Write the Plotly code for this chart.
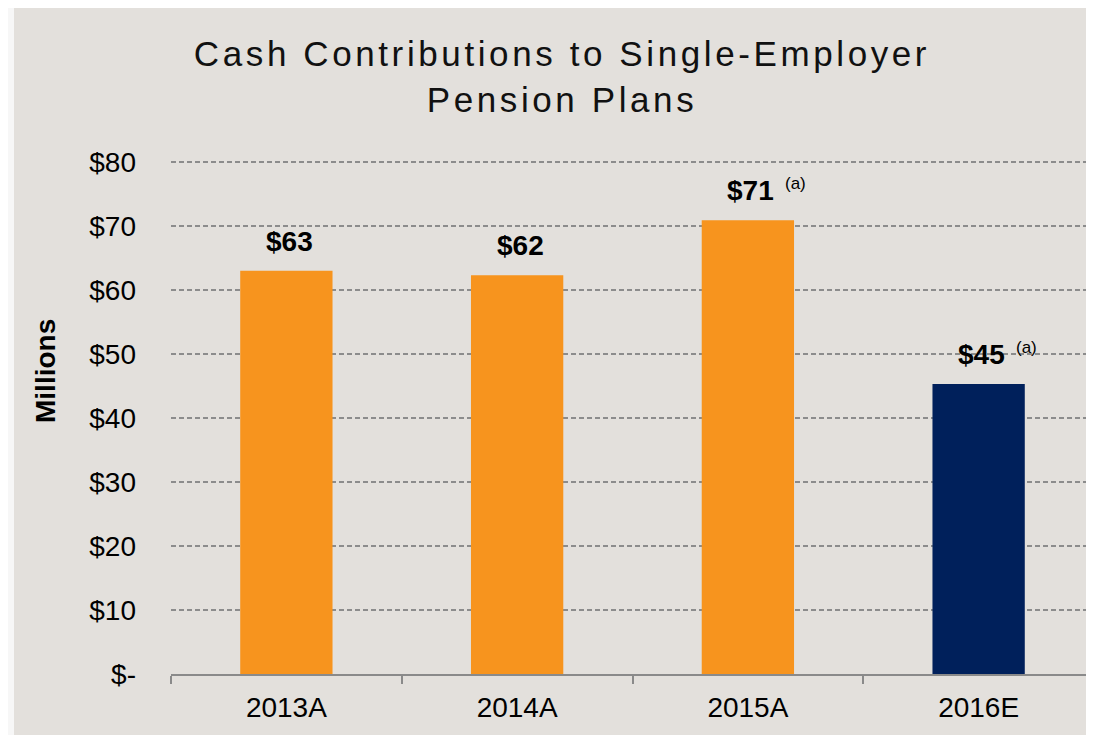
import plotly.graph_objects as go

categories = ["2013A", "2014A", "2015A", "2016E"]
values = [63, 62.3, 70.9, 45.3]
labels = ["$63", "$62", "$71", "$45"]
footnotes = ["", "", "(a)", "(a)"]
bar_colors = ["#F7941E", "#F7941E", "#F7941E", "#00205B"]
y_ticks = [0, 10, 20, 30, 40, 50, 60, 70, 80]
y_tick_labels = ["$-", "$10", "$20", "$30", "$40", "$50", "$60", "$70", "$80"]

# page body has an 8px margin; figure coordinates are offset by it
W, H = 1086, 727
L, R, T, B = 163, 0, 152, 61
pw, ph = W - L - R, H - T - B
PLOT_BOTTOM = H - B

FONT = "Liberation Sans, Arial, sans-serif"

fig = go.Figure()
fig.add_trace(go.Bar(
    x=categories, y=values, marker=dict(color=bar_colors, line=dict(width=0)),
    width=0.4, hoverinfo="skip",
))

annotations = []
for c, v, lab, fn in zip(categories, values, labels, footnotes):
    annotations.append(dict(
        x=c, y=v, xref="x", yref="y", text="<b>" + lab + "</b>", showarrow=False,
        xanchor="center", yanchor="bottom", yshift=12, xshift=3,
        font=dict(family=FONT, size=28, color="#000000"),
    ))
    if fn:
        annotations.append(dict(
            x=c, y=v, xref="x", yref="y", text=fn, showarrow=False,
            xanchor="left", yanchor="bottom", xshift=35, yshift=25,
            font=dict(family=FONT, size=17, color="#000000"),
        ))

# y-axis title
annotations.append(dict(
    x=(37 - L) / pw, y=(PLOT_BOTTOM - 363) / ph,
    xref="paper", yref="paper",
    text="<b>Millions</b>", showarrow=False, textangle=-90,
    xanchor="center", yanchor="middle",
    font=dict(family=FONT, size=28, color="#000000"),
))

title_text = ('<span style="letter-spacing:3.6px">Cash Contributions to Single-Employer</span><br>'
              '<span style="letter-spacing:3.6px">Pension Plans</span>')

fig.update_layout(
    width=W, height=H,
    margin=dict(l=L, r=R, t=T, b=B, pad=0),
    paper_bgcolor="#F7F7F7",
    plot_bgcolor="rgba(0,0,0,0)",
    showlegend=False,
    title=dict(
        text=title_text, x=554 / W, xanchor="center", xref="container",
        y=1 - 58 / H, yanchor="top", yref="container",
        font=dict(family=FONT, size=35, color="#111111"),
    ),
    annotations=annotations,
    shapes=[dict(
        type="rect", xref="paper", yref="paper", layer="below",
        x0=(6 - L) / pw, x1=(W + 5 - L) / pw,
        y0=(PLOT_BOTTOM - (H + 5)) / ph, y1=(PLOT_BOTTOM + 2) / ph,
        fillcolor="#E3E0DC", line=dict(width=0),
    )],
    xaxis=dict(
        type="category", range=[-0.5, 3.5],
        showline=True, linecolor="#8A8A8A", linewidth=2,
        ticks="outside", tickson="boundaries", ticklen=8, tickwidth=2, tickcolor="#8A8A8A",
        showgrid=False, zeroline=False, ticklabelstandoff=7,
        tickfont=dict(family=FONT, size=28, color="#000000"),
    ),
    yaxis=dict(
        range=[0, 80.3], tickvals=y_ticks, ticktext=y_tick_labels,
        showgrid=True, gridcolor="#8C8C8C", gridwidth=1.5, griddash="5px,3px",
        zeroline=False, showline=False, ticks="", ticklabelstandoff=34,
        tickfont=dict(family=FONT, size=28, color="#000000"),
    ),
    bargap=0.6,
)

fig.write_html("out.html")
